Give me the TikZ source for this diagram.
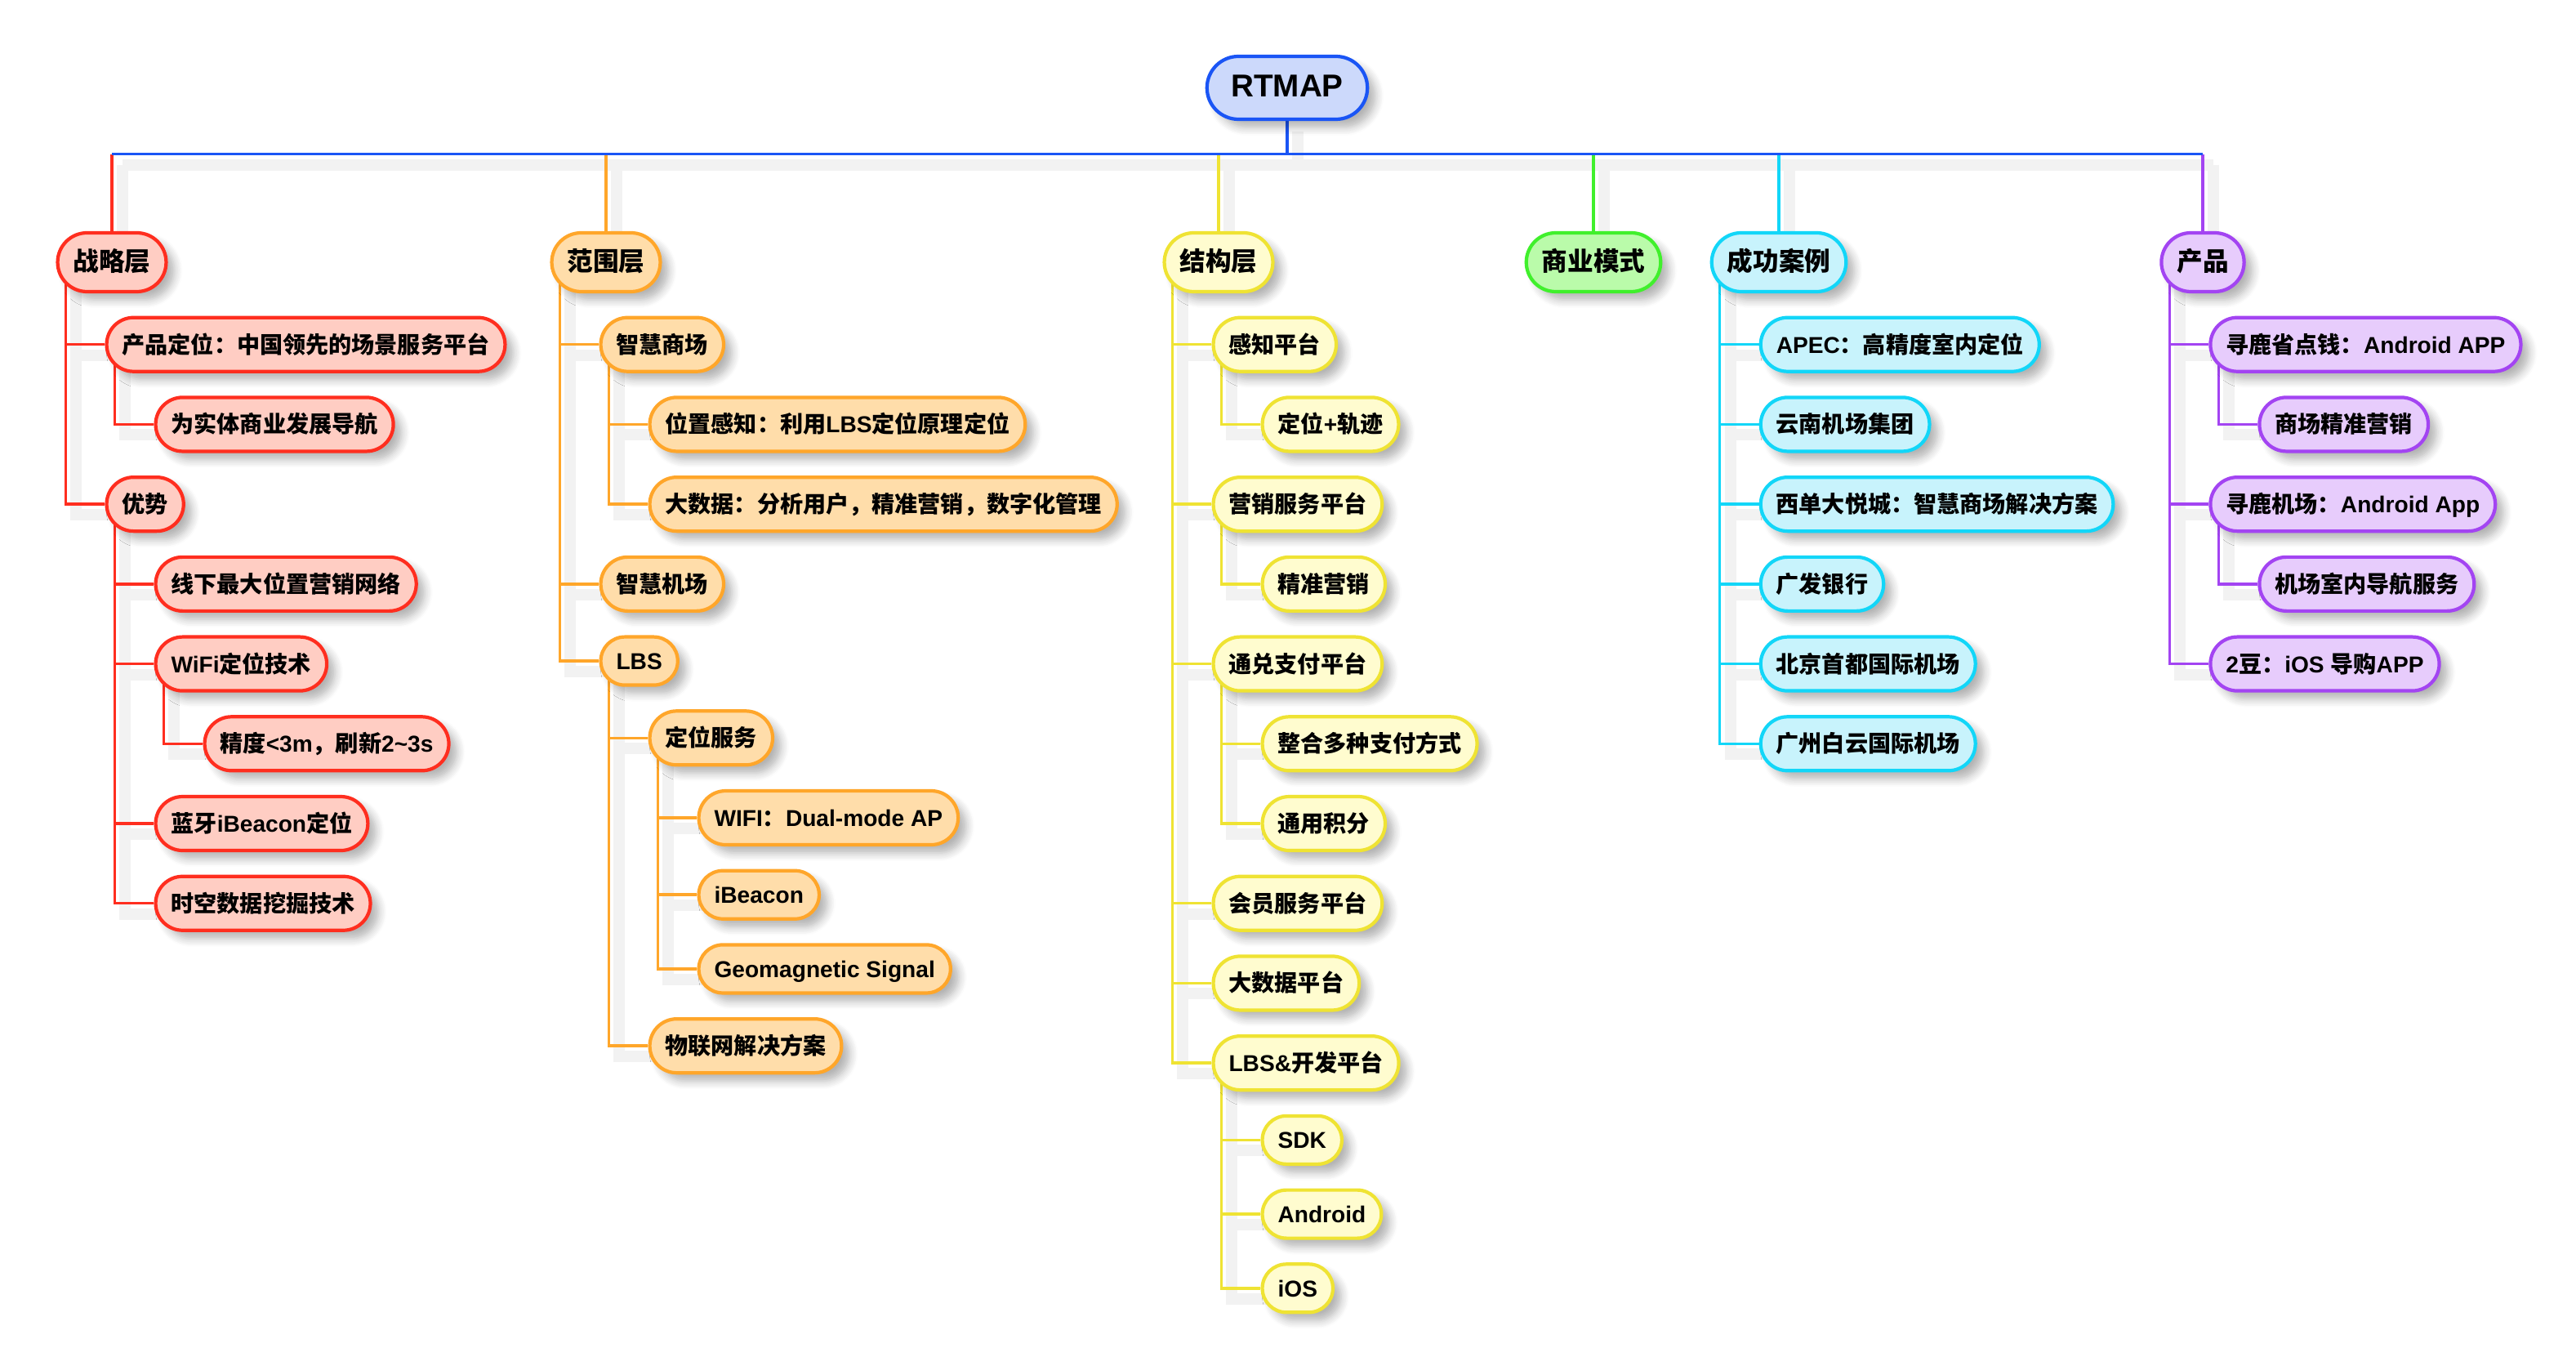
\documentclass[tikz,border=0pt]{standalone}
\usepackage{fontspec}
\setmainfont{Liberation Sans}
\newfontfamily\hanfont{Noto Sans CJK SC}
\newcommand\latfont{\rmfamily}
\usetikzlibrary{positioning,backgrounds,shadows.blur}

% switch to the CJK font for Chinese characters
\XeTeXinterchartokenstate=1
\newXeTeXintercharclass\hanclass
\newcount\hcnt
\hcnt="3000 \loop\XeTeXcharclass\hcnt=\hanclass\ifnum\hcnt<"303F\advance\hcnt by 1\repeat
\hcnt="4E00 \loop\XeTeXcharclass\hcnt=\hanclass\ifnum\hcnt<"9FFF\advance\hcnt by 1\repeat
\hcnt="FF00 \loop\XeTeXcharclass\hcnt=\hanclass\ifnum\hcnt<"FFEF\advance\hcnt by 1\repeat
\XeTeXinterchartoks 0 \hanclass={\hanfont}
\XeTeXinterchartoks 4095 \hanclass={\hanfont}
\XeTeXinterchartoks \hanclass 0={\latfont}

\definecolor{blueD}{HTML}{1A55F5}   \definecolor{blueF}{HTML}{CCD9FB}
\definecolor{redD}{HTML}{FF2E1F}    \definecolor{redF}{HTML}{FFCDC3}
\definecolor{orangeD}{HTML}{FFA62A} \definecolor{orangeF}{HTML}{FFDDAA}
\definecolor{yellowD}{HTML}{EFE333} \definecolor{yellowF}{HTML}{FFFCCF}
\definecolor{greenD}{HTML}{40F02C}  \definecolor{greenF}{HTML}{BAFBAA}
\definecolor{cyanD}{HTML}{12D6F8}   \definecolor{cyanF}{HTML}{C8F3FC}
\definecolor{purpleD}{HTML}{A344F2} \definecolor{purpleF}{HTML}{E7CCFC}

% parent/child/colour
\newcommand\links{zhanlue/chanpin/red, chanpin/weishiti/red, zhanlue/youshi/red,
  youshi/xianxia/red, youshi/wifi/red, wifi/jingdu/red, youshi/lanya/red, youshi/shikong/red,
  fanwei/zhsc/orange, zhsc/weizhi/orange, zhsc/dashuju/orange, fanwei/zhjc/orange,
  fanwei/lbs/orange, lbs/dwfw/orange, dwfw/wifiap/orange, dwfw/ibeacon/orange,
  dwfw/geo/orange, lbs/wlw/orange,
  jiegou/ganzhi/yellow, ganzhi/guiji/yellow, jiegou/yingxiao/yellow, yingxiao/jzyx/yellow,
  jiegou/tongdui/yellow, tongdui/zhenghe/yellow, tongdui/jifen/yellow, jiegou/huiyuan/yellow,
  jiegou/dsjpt/yellow, jiegou/kaifa/yellow, kaifa/sdk/yellow, kaifa/android/yellow, kaifa/ios/yellow,
  chenggong/apec/cyan, chenggong/yunnan/cyan, chenggong/xidan/cyan, chenggong/guangfa/cyan,
  chenggong/shoudu/cyan, chenggong/baiyun/cyan,
  chanpinc/xunlu/purple, xunlu/scyx/purple, chanpinc/xljc/purple, xljc/jcdh/purple, chanpinc/erdou/purple}

\begin{document}
\begin{tikzpicture}[node distance=2.75mm,
    mbox/.style={draw=#1D, fill=#1F, line width=1.2pt, rounded corners=3.3mm,
      minimum height=6.6mm, inner xsep=1.9mm, inner ysep=0pt, text height=0.8em, text depth=0.2em,
      font=\fontsize{8}{9}\selectfont\bfseries,
      blur shadow={shadow xshift=1mm, shadow yshift=-1mm, shadow blur radius=1mm,
        shadow blur steps=6, shadow opacity=30}},
    slim/.style={minimum height=5.9mm, rounded corners=2.95mm},
    head/.style={mbox=#1, minimum height=7.2mm, rounded corners=3.6mm,
      font=\fontsize{9}{10}\selectfont\bfseries},
    hub/.style={mbox=blue, minimum height=7.7mm, rounded corners=3.85mm, inner xsep=2.95mm,
      font=\fontsize{11}{12}\selectfont\bfseries},
    kid/.style={below right=2.75mm and 6mm of #1.south west},
    nxt/.style={below=of #1.south west, anchor=north west},
    sib/.style 2 args={at={(#1.south -| #2.west)}, anchor=north west, yshift=-2.75mm},
    link/.style={draw=#1D, line width=1pt}]

  \useasboundingbox (0,0) rectangle (315.4mm,-167.2mm);

  \node [hub] (rtmap) at (157.6mm,-10.75mm) {RTMAP};
  \coordinate [below=4.05mm of rtmap] (bus);

  % 战略层
  \node [head=red] (zhanlue) at (13.7mm,-32.1mm) {战略层};
  \node [mbox=red, kid=zhanlue] (chanpin) {产品定位：中国领先的场景服务平台};
  \node [mbox=red, kid=chanpin] (weishiti) {为实体商业发展导航};
  \node [mbox=red, sib={weishiti}{chanpin}] (youshi) {优势};
  \node [mbox=red, kid=youshi] (xianxia) {线下最大位置营销网络};
  \node [mbox=red, nxt=xianxia] (wifi) {WiFi定位技术};
  \node [mbox=red, kid=wifi] (jingdu) {精度<3m，刷新2\textasciitilde3s};
  \node [mbox=red, sib={jingdu}{wifi}] (lanya) {蓝牙iBeacon定位};
  \node [mbox=red, nxt=lanya] (shikong) {时空数据挖掘技术};

  % 范围层
  \node [head=orange] (fanwei) at (74.2mm,-32.1mm) {范围层};
  \node [mbox=orange, kid=fanwei] (zhsc) {智慧商场};
  \node [mbox=orange, kid=zhsc] (weizhi) {位置感知：利用LBS定位原理定位};
  \node [mbox=orange, nxt=weizhi] (dashuju) {大数据：分析用户，精准营销，数字化管理};
  \node [mbox=orange, sib={dashuju}{zhsc}] (zhjc) {智慧机场};
  \node [mbox=orange, slim, nxt=zhjc] (lbs) {LBS};
  \node [mbox=orange, kid=lbs] (dwfw) {定位服务};
  \node [mbox=orange, kid=dwfw] (wifiap) {WIFI：Dual-mode AP};
  \node [mbox=orange, slim, nxt=wifiap] (ibeacon) {iBeacon};
  \node [mbox=orange, slim, nxt=ibeacon] (geo) {Geomagnetic Signal};
  \node [mbox=orange, sib={geo}{dwfw}] (wlw) {物联网解决方案};

  % 结构层
  \node [head=yellow] (jiegou) at (149.2mm,-32.1mm) {结构层};
  \node [mbox=yellow, kid=jiegou] (ganzhi) {感知平台};
  \node [mbox=yellow, kid=ganzhi] (guiji) {定位+轨迹};
  \node [mbox=yellow, sib={guiji}{ganzhi}] (yingxiao) {营销服务平台};
  \node [mbox=yellow, kid=yingxiao] (jzyx) {精准营销};
  \node [mbox=yellow, sib={jzyx}{yingxiao}] (tongdui) {通兑支付平台};
  \node [mbox=yellow, kid=tongdui] (zhenghe) {整合多种支付方式};
  \node [mbox=yellow, nxt=zhenghe] (jifen) {通用积分};
  \node [mbox=yellow, sib={jifen}{tongdui}] (huiyuan) {会员服务平台};
  \node [mbox=yellow, nxt=huiyuan] (dsjpt) {大数据平台};
  \node [mbox=yellow, nxt=dsjpt] (kaifa) {LBS\&开发平台};
  \node [mbox=yellow, slim, kid=kaifa] (sdk) {SDK};
  \node [mbox=yellow, slim, nxt=sdk] (android) {Android};
  \node [mbox=yellow, slim, nxt=android] (ios) {iOS};

  % 商业模式
  \node [head=green] (shangye) at (195.1mm,-32.1mm) {商业模式};

  % 成功案例
  \node [head=cyan] (chenggong) at (217.8mm,-32.1mm) {成功案例};
  \node [mbox=cyan, kid=chenggong] (apec) {APEC：高精度室内定位};
  \node [mbox=cyan, nxt=apec] (yunnan) {云南机场集团};
  \node [mbox=cyan, nxt=yunnan] (xidan) {西单大悦城：智慧商场解决方案};
  \node [mbox=cyan, nxt=xidan] (guangfa) {广发银行};
  \node [mbox=cyan, nxt=guangfa] (shoudu) {北京首都国际机场};
  \node [mbox=cyan, nxt=shoudu] (baiyun) {广州白云国际机场};

  % 产品
  \node [head=purple] (chanpinc) at (269.7mm,-32.1mm) {产品};
  \node [mbox=purple, kid=chanpinc] (xunlu) {寻鹿省点钱：Android APP};
  \node [mbox=purple, kid=xunlu] (scyx) {商场精准营销};
  \node [mbox=purple, sib={scyx}{xunlu}] (xljc) {寻鹿机场：Android App};
  \node [mbox=purple, kid=xljc] (jcdh) {机场室内导航服务};
  \node [mbox=purple, sib={jcdh}{xljc}] (erdou) {2豆：iOS 导购APP};

  \begin{scope}[on background layer]
    % soft shadows of the connectors
    \begin{scope}[transform canvas={shift={(1.3mm,-1.3mm)}}, draw=black!5, line width=4pt]
      \draw (rtmap) -- (bus);
      \draw (zhanlue |- bus) -- (chanpinc |- bus);
      \foreach \h in {zhanlue,fanwei,jiegou,shangye,chenggong,chanpinc}
        \draw (\h |- bus) -- (\h);
      \foreach \p/\c/\k in \links
        \draw ([xshift=1.2mm]\p.west) |- (\c.west);
    \end{scope}
    \foreach \h/\k in {zhanlue/red,fanwei/orange,jiegou/yellow,shangye/green,chenggong/cyan,chanpinc/purple}
      \draw [link=\k] (\h |- bus) -- (\h);
    \draw [link=blue] (rtmap) -- (bus);
    \draw [link=blue] (zhanlue |- bus) -- (chanpinc |- bus);
    \foreach \p/\c/\k in \links
      \draw [link=\k] ([xshift=1.2mm]\p.west) |- (\c.west);
  \end{scope}
\end{tikzpicture}
\end{document}
